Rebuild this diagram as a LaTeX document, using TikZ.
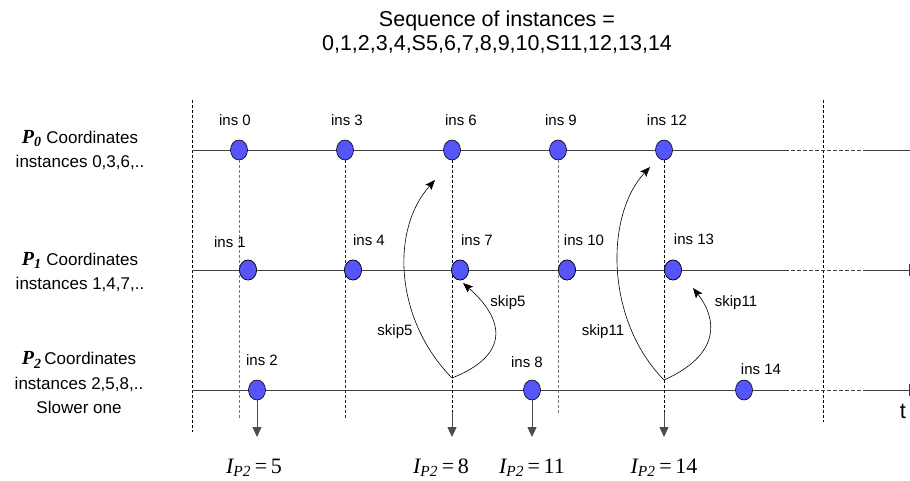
\documentclass[tikz,border=0pt]{standalone}
\usepackage{fontspec}
\setmainfont{Liberation Sans}
\newfontfamily\tmsfont{Liberation Serif}
\usetikzlibrary{arrows.meta,shapes.geometric}
\definecolor{insblue}{RGB}{85,85,250}
\tikzset{
  ins/.style={ellipse,draw=black,fill=insblue,line width=0.6pt,minimum width=17pt,minimum height=20pt,inner sep=0pt},
  inslab/.style={font=\fontsize{15}{18}\selectfont,inner sep=0pt},
  timeline/.style={draw=black!75,line width=0.9pt},
  guide/.style={dash pattern=on 3pt off 2pt,line width=0.7pt},
  skiplab/.style={font=\fontsize{15}{18}\selectfont,inner sep=0pt},
  skiparr/.style={-{Stealth[length=10pt,width=8pt,inset=2pt]},line width=0.6pt},
  downarr/.style={-{Triangle[length=10pt,width=9pt]},line width=0.9pt,draw=black!70},
  plab/.style={align=center,font=\fontsize{17}{24.5}\selectfont,inner sep=0pt},
  ilab/.style={font=\fontsize{22}{26}\selectfont\tmsfont,inner sep=0pt}
}
\newcommand{\pname}[1]{{\fontsize{20}{24}\selectfont\tmsfont\bfseries\itshape P\textsubscript{#1}}}
\newcommand{\ipt}[1]{{\itshape I\textsubscript{P2}}\,=\,#1}

\begin{document}
\begin{tikzpicture}[x=1pt,y=-1pt]
\useasboundingbox (0,0) rectangle (910,481);
% ---------- title ----------
\node[align=center,font=\fontsize{21.5}{24}\selectfont] (title) at (497,32)
  {Sequence of instances =\\0,1,2,3,4,S5,6,7,8,9,10,S11,12,13,14};
% ---------- outer guides ----------
\draw[guide] (192,100) -- (192,432);
\draw[guide] (823,100) -- (823,422);
% ---------- timelines P0, P1, P2 ----------
\foreach \y in {150,270,390}{
  \draw[timeline] (192,\y) -- (785,\y);
  \draw[timeline,dash pattern=on 4pt off 2pt] (785,\y) -- (867,\y);
  \draw[timeline] (867,\y) -- (910,\y);
}
\foreach \y in {270,390}{
  \draw[timeline] (909.5,\y-6) -- (909.5,\y+6);
}
% ---------- instance nodes ----------
\foreach \n/\x/\y in {0/239/150,3/345/150,6/452/150,9/558/150,12/664/150,
                      1/248/270,4/353/270,7/460/270,10/567/270,13/673/270,
                      2/257/390,8/532/390,14/744/390}{
  \node[ins] (i\n) at (\x,\y) {};
}
% ---------- guides down from the P0 instances ----------
\foreach \n/\len/\col in {0/260/black!55,3/260/black!85,9/255/black!55}{
  \draw[guide,draw=\col] (i\n.south) -- ++(0,\len);
}
\coordinate (d6) at (452,412);
\coordinate (d12) at (664,412);
\draw[guide] (i6.south) -- (d6);
\draw[guide] (i12.south) -- (d12);
% redraw nodes on top of the guides
\foreach \n/\x/\y in {1/248/270,4/353/270,7/460/270,10/567/270,13/673/270}{
  \node[ins] at (\x,\y) {};
}
% ---------- instance labels ----------
\foreach \n/\x/\y in {0/235/120,3/347/120,6/461/120,9/561/120,12/667/120,
                      1/230/242,4/369/240,7/477/240,10/584/240,13/694/239,
                      2/262/360,8/527/362,14/761/369}{
  \node[inslab] (l\n) at (\x,\y) {ins \n};
}
% ---------- results of P2 ----------
\coordinate (e2) at (257,437);
\coordinate (e6) at (452,437);
\coordinate (e8) at (532,437);
\coordinate (e12) at (664,437);
\draw[downarr] (i2.south) -- (e2);
\draw[downarr] (d6) -- (e6);
\draw[downarr] (i8.south) -- (e8);
\draw[downarr] (d12) -- (e12);
\node[ilab] (v5) at (254,468) {\ipt{5}};
\node[ilab] (v8) at (441,468) {\ipt{8}};
\node[ilab] (v11) at (532,468) {\ipt{11}};
\node[ilab] (v14) at (664,468) {\ipt{14}};
% ---------- skip arrows ----------
\coordinate (s5) at (452,378);
\coordinate (s11) at (664,380);
\coordinate (h5a) at (435,180);
\coordinate (h5b) at (463,283);
\coordinate (h11a) at (650,167);
\coordinate (h11b) at (693,288);
\draw[skiparr] (s5) .. controls (395,320) and (390,230) .. (h5a);
\draw[skiparr] (s5) .. controls (510,355) and (505,320) .. (h5b);
\draw[skiparr] (s11) .. controls (605,320) and (605,215) .. (h11a);
\draw[skiparr] (s11) .. controls (720,355) and (718,320) .. (h11b);
\node[skiplab] (k5a) at (395,332) {skip5};
\node[skiplab] (k5b) at (508,303) {skip5};
\node[skiplab] (k11a) at (603,332) {skip11};
\node[skiplab] (k11b) at (736,303) {skip11};
% ---------- processes ----------
\node[plab] (c0) at (80,150) {\pname{0} Coordinates\\instances 0,3,6,..};
\node[plab] (c1) at (80,272) {\pname{1} Coordinates\\instances 1,4,7,..};
\node[plab] (c2) at (79,383) {\pname{2}\,Coordinates\\instances 2,5,8,..\\Slower one};
\node[font=\fontsize{22}{24}\selectfont,inner sep=0pt] (tlab) at (903,411) {t};
\end{tikzpicture}
\end{document}
